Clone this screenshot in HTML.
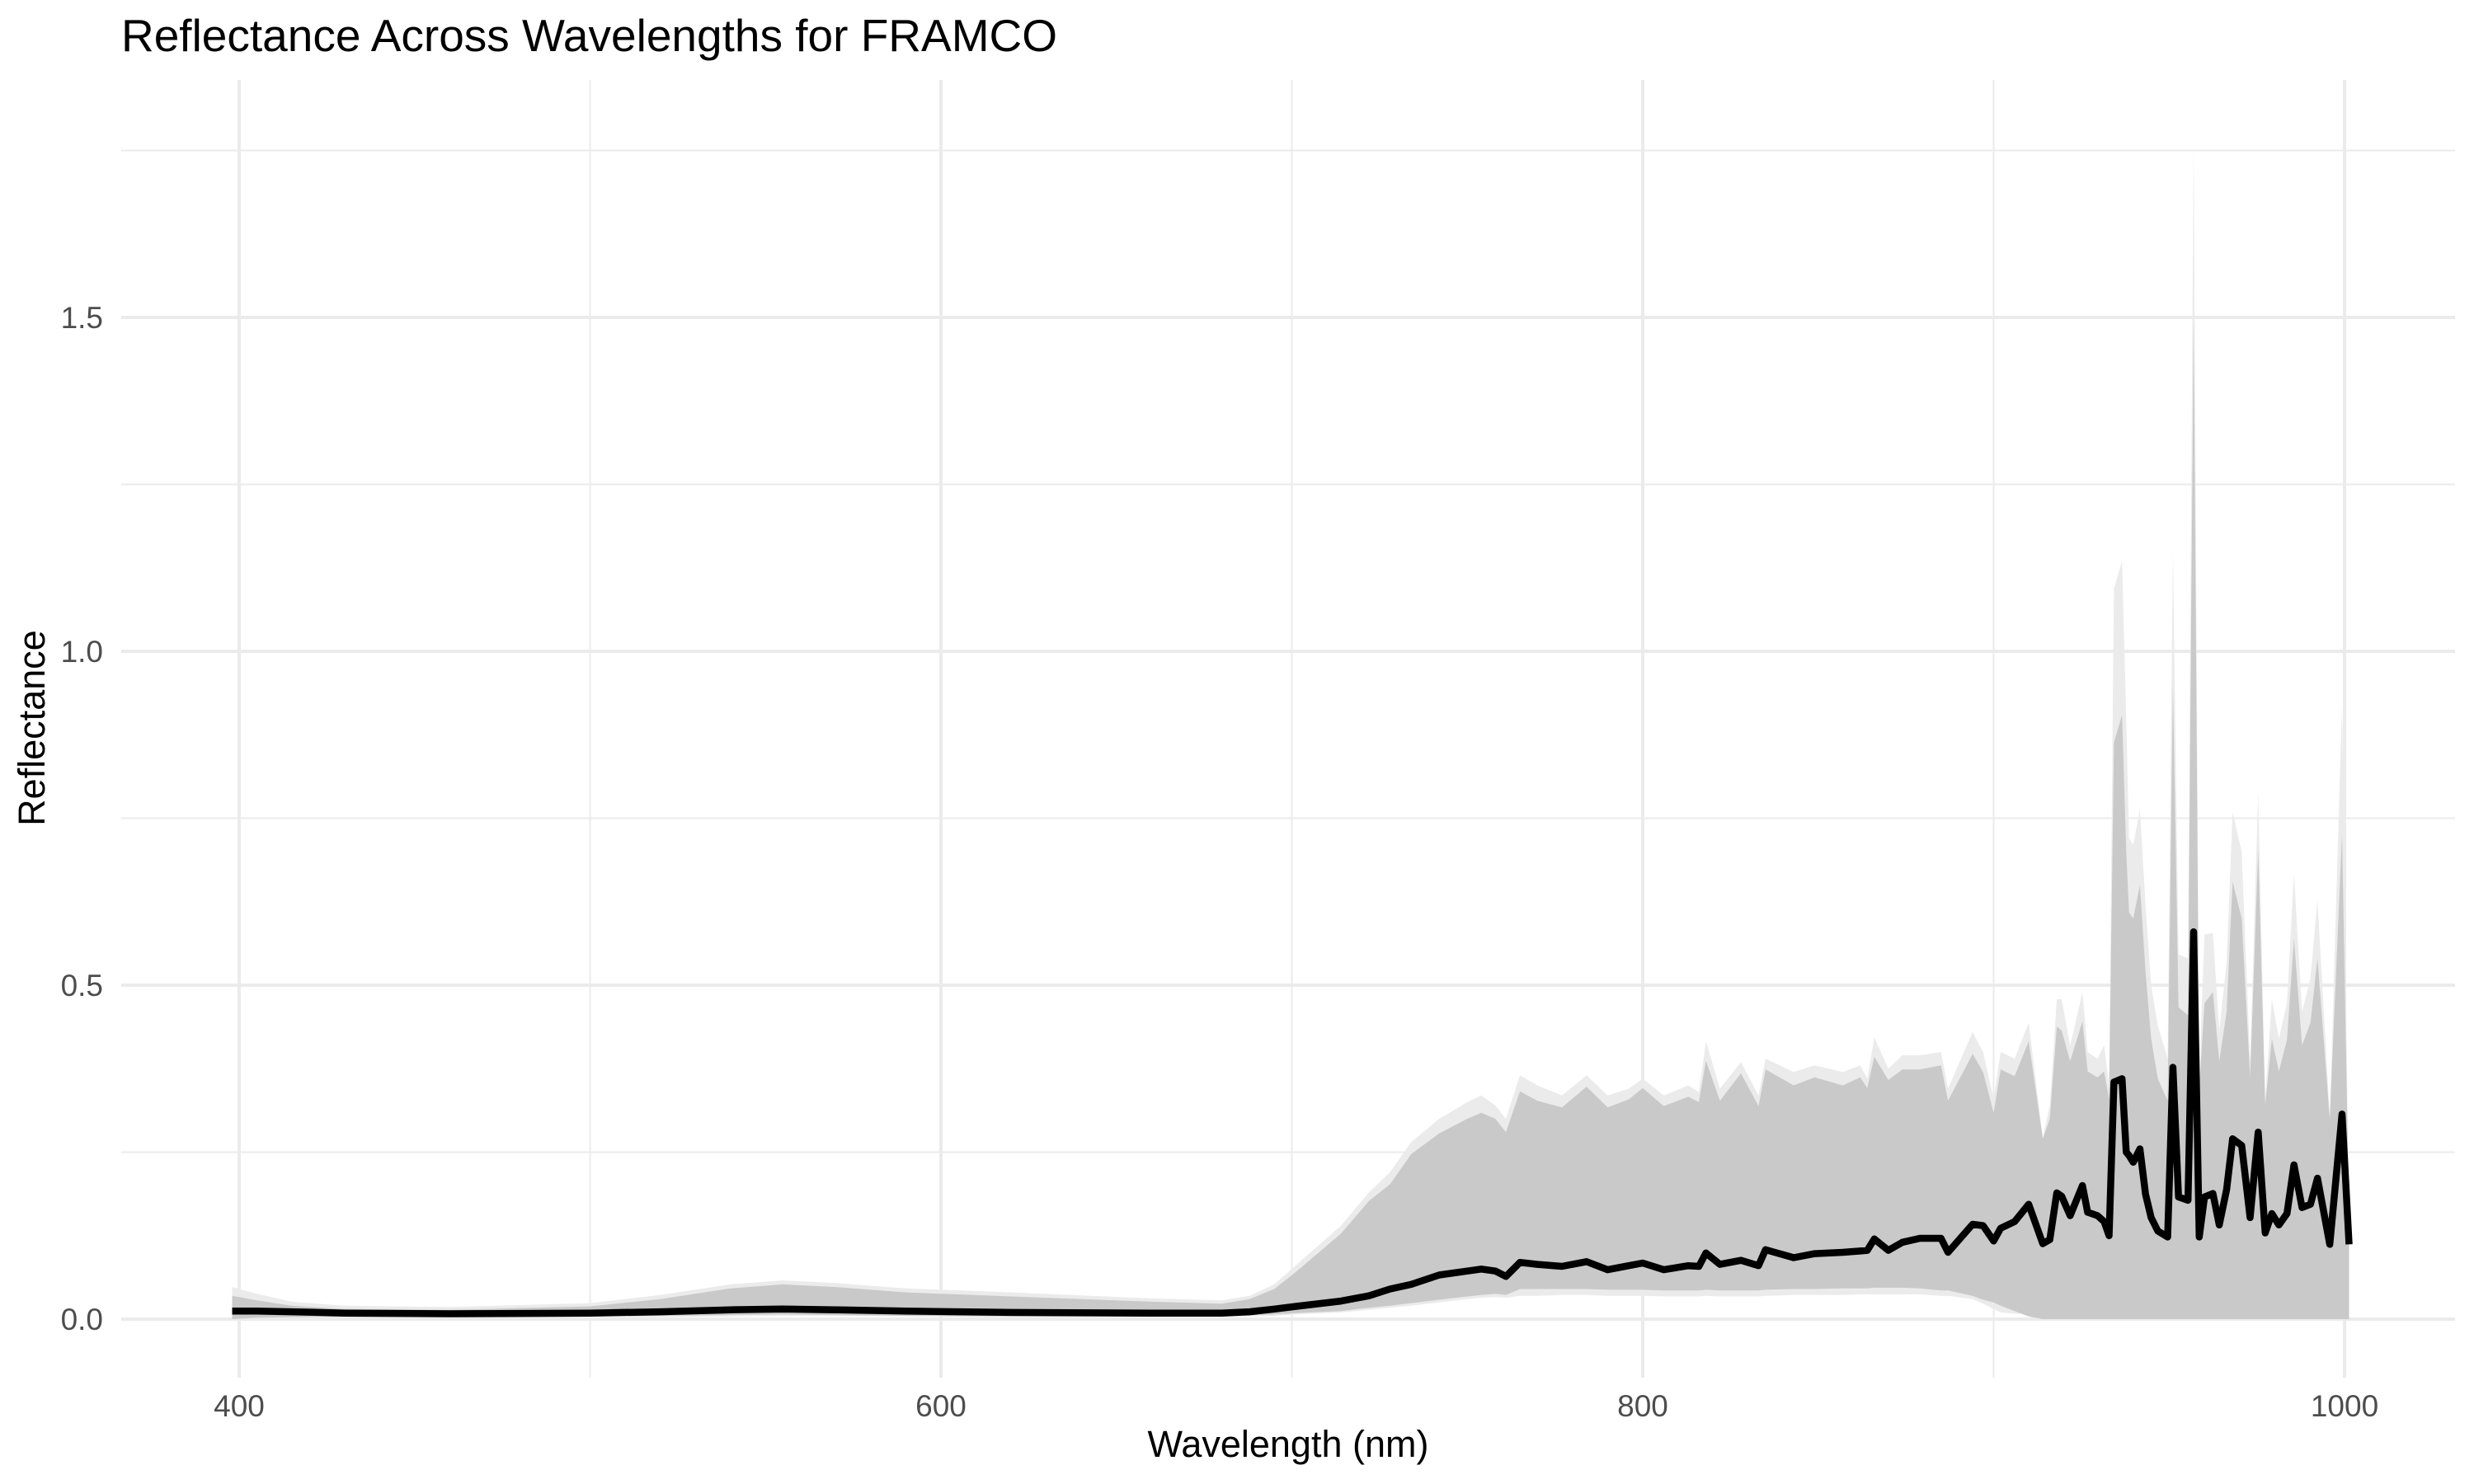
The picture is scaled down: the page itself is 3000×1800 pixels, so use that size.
<!DOCTYPE html>
<html><head><meta charset="utf-8"><style>
html,body{margin:0;padding:0;background:#fff;}
svg{display:block;font-family:"Liberation Sans",Arial,sans-serif;}
</style></head><body>
<svg id="chart" width="3000" height="1800" viewBox="0 0 3000 1800" xmlns="http://www.w3.org/2000/svg">
<rect width="3000" height="1800" fill="#fff"/>
<g id="grid"></g>
<g id="ribbons"></g>
<g id="lines"></g>
<g id="axes"></g>
<text x="147" y="62" font-size="55" fill="#000">Reflectance Across Wavelengths for FRAMCO</text>
<text x="1562" y="1767" font-size="45" text-anchor="middle" fill="#000">Wavelength (nm)</text>
<text x="0" y="0" font-size="45" text-anchor="middle" fill="#000" transform="translate(54,883) rotate(-90)">Reflectance</text>
</svg>
<script>
const wavelengths=[398,405,415,430,460,500,520,540,555,570,590,620,660,680,688,695,701,714,722,728,734,742,750,754,758,761,765,770,777,784,790,796,800,806,813,816,818,822,828,833,835,843,849,857,862,864,866,870,874,879,885,887,894,897,900,902,906,910,914,916,918,919.4,921.8,925.3,926.8,929.6,931.5,932.9,934.3,936.6,937.8,938.6,939.8,941.7,943.3,944.9,946.8,949.6,951.1,952.7,955.4,957,958.6,960.1,962.5,964.3,966.4,968.1,970.7,973.1,975.4,977.4,979.3,981.3,983.6,985.6,987.9,990.3,992.3,995.8,999.3,1001.3];
const meanVals=[.012,.012,.011,.009,.008,.009,.011,.014,.015,.014,.012,.010,.009,.009,.011,.015,.019,.027,.035,.045,.052,.066,.072,.075,.072,.064,.085,.082,.079,.086,.074,.080,.084,.074,.080,.079,.099,.082,.088,.080,.104,.092,.098,.100,.102,.103,.120,.103,.115,.121,.121,.100,.142,.140,.117,.136,.146,.172,.113,.119,.189,.184,.155,.20,.16,.155,.146,.125,.355,.36,.25,.245,.235,.255,.187,.152,.132,.123,.377,.183,.178,.58,.123,.183,.188,.141,.194,.27,.26,.152,.28,.129,.158,.141,.158,.231,.167,.172,.211,.112,.307,.112];
const sdLow=[0,.002,.003,.004,.004,.004,.005,.006,.007,.006,.005,.004,.004,.004,.006,.007,.009,.012,.017,.020,.024,.029,.034,.036,.038,.036,.045,.045,.045,.045,.044,.044,.044,.043,.043,.043,.044,.043,.043,.043,.044,.045,.045,.046,.046,.046,.047,.047,.047,.046,.043,.043,.035,.029,.025,.020,.012,.004,0,0,0,0,0,0,0,0,0,0,0,0,0,0,0,0,0,0,0,0,0,0,0,0,0,0,0,0,0,0,0,0,0,0,0,0,0,0,0,0,0,0,0,0];
const sdHigh=[.035,.028,.020,.015,.014,.019,.030,.046,.052,.048,.040,.034,.026,.023,.030,.045,.07,.128,.177,.202,.247,.278,.30,.309,.30,.280,.341,.327,.317,.348,.317,.329,.346,.319,.333,.325,.387,.327,.368,.319,.374,.35,.362,.35,.362,.346,.393,.358,.374,.374,.38,.327,.397,.37,.309,.374,.364,.416,.27,.30,.438,.432,.386,.446,.371,.362,.371,.329,.863,.905,.70,.609,.60,.65,.52,.42,.36,.327,.95,.467,.455,1.495,.344,.473,.49,.386,.46,.655,.60,.362,.702,.321,.42,.371,.418,.57,.41,.444,.54,.30,.727,.15];
const rangeLow=[0,0,.001,.002,.002,.003,.003,.004,.005,.005,.004,.003,.003,.003,.004,.005,.007,.010,.014,.017,.020,.025,.030,.032,.033,.032,.035,.035,.036,.036,.035,.035,.035,.034,.034,.034,.035,.034,.034,.034,.035,.036,.036,.036,.037,.037,.037,.037,.037,.037,.035,.035,.030,.023,.015,.010,.008,.008,.006,.006,.008,.008,.006,.004,.003,.002,.001,0,0,0,0,0,0,0,0,0,0,0,0,0,0,0,0,0,0,0,0,0,0,0,0,0,0,0,0,0,0,0,0,0,0,0];
const rangeHigh=[.048,.038,.026,.020,.018,.024,.036,.052,.058,.054,.046,.040,.031,.028,.035,.052,.08,.14,.19,.22,.265,.30,.325,.335,.32,.30,.365,.350,.335,.365,.335,.345,.36,.335,.35,.34,.416,.345,.385,.335,.39,.37,.38,.37,.38,.36,.422,.375,.395,.395,.40,.345,.43,.40,.33,.40,.39,.444,.272,.32,.479,.479,.409,.49,.40,.39,.41,.35,1.094,1.135,.90,.72,.71,.763,.62,.50,.44,.39,1.15,.546,.54,1.754,.37,.576,.578,.432,.535,.759,.70,.386,.788,.33,.479,.42,.473,.667,.46,.51,.627,.303,.92,.15];
const xTicks=[400,600,800,1000];
const xMinor=[500,700,900];
const yTicks=[0,0.5,1.0,1.5];
const yTickLabels=["0.0","0.5","1.0","1.5"];
const yMinor=[0.25,0.75,1.25,1.75];

const P={l:147,r:2977,t:97,b:1671};
const X=v=>290+(v-400)*4.255;
const Y=v=>1600-v*810;
const NS="http://www.w3.org/2000/svg";
function mk(tag,attrs,parent){const e=document.createElementNS(NS,tag);for(const k in attrs)e.setAttribute(k,attrs[k]);parent.appendChild(e);return e;}
const grid=document.getElementById('grid'),rib=document.getElementById('ribbons'),lines=document.getElementById('lines'),axes=document.getElementById('axes');

yMinor.forEach(v=>{const e=mk('line',{x1:P.l,x2:P.r,y1:Y(v),y2:Y(v),stroke:'#ebebeb','stroke-width':2},grid);

});
xMinor.forEach(v=>{const e=mk('line',{x1:X(v),x2:X(v),y1:P.t,y2:P.b,stroke:'#ebebeb','stroke-width':2},grid);

});
yTicks.forEach((v,i)=>{const e=mk('line',{x1:P.l,x2:P.r,y1:Y(v),y2:Y(v),stroke:'#ebebeb','stroke-width':4},grid);


const t=mk('text',{x:125,y:Y(v)+13,'font-size':37,'text-anchor':'end',fill:'#4d4d4d'},axes);t.textContent=yTickLabels[i];

});
xTicks.forEach(v=>{const e=mk('line',{x1:X(v),x2:X(v),y1:P.t,y2:P.b,stroke:'#ebebeb','stroke-width':4},grid);


const t=mk('text',{x:X(v),y:1718,'font-size':37,'text-anchor':'middle',fill:'#4d4d4d'},axes);t.textContent=String(v);

});

function band(lo,hi){let d='';wavelengths.forEach((w,i)=>{d+=(i?'L':'M')+X(w).toFixed(1)+','+Y(hi[i]).toFixed(1);});
for(let i=wavelengths.length-1;i>=0;i--)d+='L'+X(wavelengths[i]).toFixed(1)+','+Y(lo[i]).toFixed(1);return d+'Z';}
const r1=mk('path',{d:band(rangeLow,rangeHigh),fill:'#ebebeb',stroke:'none'},rib);


const r2=mk('path',{d:band(sdLow,sdHigh),fill:'#c9c9c9',stroke:'none'},rib);


let d='';wavelengths.forEach((w,i)=>{d+=(i?'L':'M')+X(w).toFixed(1)+','+Y(meanVals[i]).toFixed(1);});
const ml=mk('path',{d:d,fill:'none',stroke:'#000','stroke-width':8.5,'stroke-linejoin':'round'},lines);


</script>
</body></html>
